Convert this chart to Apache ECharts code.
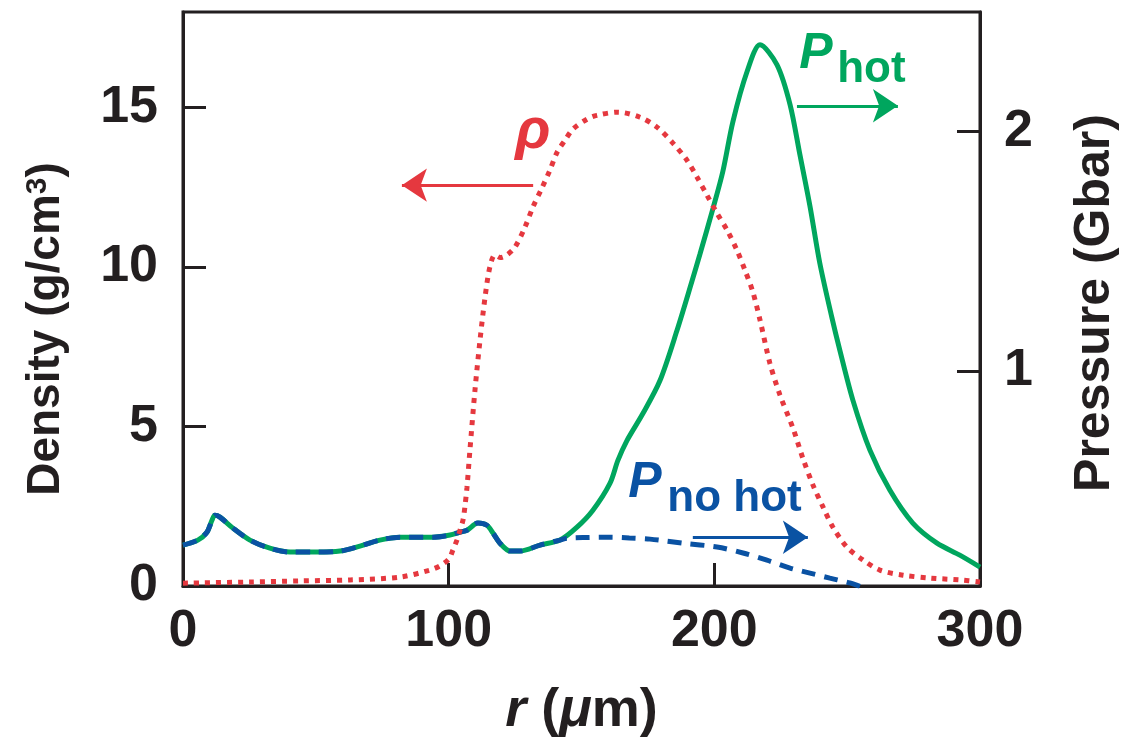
<!DOCTYPE html>
<html>
<head>
    <meta charset="utf-8">
    <title>Density and pressure profiles</title>
    <style type="text/css">
        html, body { margin: 0; padding: 0; background: #fff; }
        #chart { width: 1126px; height: 739px; }
    </style>
</head>
<body>
    <div id="chart"></div>

<script src="https://cdn.jsdelivr.net/npm/echarts@6/dist/echarts.min.js"></script>
<script>

    // r (um) and pressure (Gbar) where both pressure curves coincide
    var sharedR = [0, 5.6, 9, 10.9, 12, 13.9, 18.8, 25.2, 32.7, 40.3, 50, 59.1, 66.6, 74.1, 81.7, 94.1, 100.5, 104.3, 106.9, 111, 114.4, 116.7, 119.3, 123.1, 126.8, 134.4, 141.9];
    var sharedP = [0.271, 0.292, 0.325, 0.375, 0.396, 0.388, 0.342, 0.292, 0.258, 0.242, 0.242, 0.246, 0.267, 0.292, 0.304, 0.304, 0.313, 0.325, 0.333, 0.363, 0.354, 0.321, 0.279, 0.246, 0.246, 0.271, 0.292];

    // P hot, after it leaves the shared part
    var hotR = [148.3, 154.3, 160.7, 163.7, 167.1, 173.1, 179.5, 185.9, 191.6, 194.6, 199.5, 203.2, 207, 212.3, 217.2, 223.6, 228.5, 232.2, 236, 239.7, 244.3, 247.3, 252.2, 258.6, 266.1, 274.7, 283.8, 292.4, 300];
    var hotP = [0.346, 0.417, 0.529, 0.625, 0.708, 0.821, 0.958, 1.167, 1.375, 1.488, 1.679, 1.833, 2.042, 2.25, 2.363, 2.279, 2.113, 1.904, 1.688, 1.45, 1.22, 1.083, 0.875, 0.667, 0.5, 0.363, 0.279, 0.229, 0.179];

    // P no hot, after it leaves the shared part
    var noHotR = [144.5, 152, 160.7, 168, 175.8, 188.2, 201, 210.8, 219.8, 228.5, 236, 243.5, 251, 255.5];
    var noHotP = [0.300, 0.303, 0.304, 0.301, 0.296, 0.279, 0.263, 0.238, 0.208, 0.175, 0.154, 0.133, 0.113, 0.096];

    // density (g/cm3)
    var rhoR = [0, 25.2, 44, 62.9, 81.7, 93, 96.7, 100.1, 101.6, 103.1, 104.3, 105.4, 106.1, 106.9, 108, 109.9, 111.8, 113.7, 115.5, 117.4, 119.5, 121.9, 125, 128.7, 131.7, 135.1, 138.1, 140.8, 143.8, 146.8, 152.1, 155.8, 163.7, 172, 178.4, 184.4, 189.7, 193.5, 197.2, 201, 204.8, 208.5, 211.5, 214.5, 217.2, 220.9, 224.7, 229.6, 233.3, 237.1, 240.9, 244.6, 249.9, 255.9, 262.3, 271, 281.1, 292.4, 300];
    var rhoV = [0.09, 0.125, 0.16, 0.19, 0.28, 0.5, 0.63, 0.85, 1.13, 1.44, 1.76, 2.07, 2.48, 3.1, 4.26, 6.14, 7.71, 9.06, 10.0, 10.38, 10.3, 10.38, 10.63, 11.25, 11.88, 12.48, 13.04, 13.6, 13.98, 14.33, 14.64, 14.76, 14.86, 14.7, 14.39, 13.89, 13.35, 12.82, 12.26, 11.69, 11.16, 10.53, 9.91, 9.22, 8.34, 6.99, 5.99, 4.95, 4.01, 3.17, 2.48, 1.85, 1.22, 0.82, 0.5, 0.34, 0.25, 0.19, 0.125];

    var xTicks = [0, 100, 200, 300];
    var densityTicks = [0, 5, 10, 15];
    var pressureTicks = [1, 2];

    var FONT = '"Liberation Sans", Arial, Helvetica, sans-serif';
    var INK = '#231f20';
    var GREEN = '#00a65e';
    var BLUE = '#0a52a3';
    var RED = '#e5383f';

    function zip(xs, ys) {
        var out = [];
        for (var i = 0; i < xs.length; i++) {
            out.push([xs[i], ys[i]]);
        }
        return out;
    }

    // straight arrow drawn as a mark line, tip at "to"
    function arrow(color, from, to) {
        return {
            silent: true,
            animation: false,
            symbol: ['none', 'arrow'],
            symbolSize: 25,
            label: { show: false },
            emphasis: { disabled: true },
            lineStyle: { color: color, width: 3, type: 'solid' },
            data: [[{ coord: from }, { coord: to }]]
        };
    }

    function tag(color, items) {
        return {
            silent: true,
            animation: false,
            symbol: 'circle',
            symbolSize: 1,
            itemStyle: { color: 'rgba(0,0,0,0)' },
            label: {
                show: true,
                position: 'inside',
                color: color,
                fontFamily: FONT,
                fontWeight: 'bold'
            },
            data: items
        };
    }

    var axisLine = { show: true, lineStyle: { color: INK, width: 3 } };
    var tickStyle = { color: INK, width: 3 };
    var labelStyle = { color: INK, fontFamily: FONT, fontWeight: 'bold', fontSize: 52 };
    var nameStyle = { color: INK, fontFamily: FONT, fontWeight: 'bold', fontSize: 50 };

    var option = {
        animation: false,
        backgroundColor: '#fff',
        grid: {
            left: 183, right: 146, top: 12, bottom: 153,
            show: true, borderColor: INK, borderWidth: 3,
            outerBoundsMode: 'none'
        },
        xAxis: {
            type: 'value',
            min: 0, max: 300,
            axisLine: axisLine,
            axisTick: { inside: true, length: 23, lineStyle: tickStyle, customValues: xTicks },
            axisLabel: Object.assign({ margin: 20, customValues: xTicks }, labelStyle),
            splitLine: { show: false },
            name: '{it|r} ({it|\u03bc}m)',
            nameLocation: 'middle',
            nameGap: 98,
            nameTextStyle: Object.assign({}, nameStyle, {
                fontSize: 54,
                rich: {
                    it: { fontFamily: FONT, fontWeight: 'bold', fontStyle: 'italic', fontSize: 54, color: INK }
                }
            })
        },
        yAxis: [{
            type: 'value',
            position: 'left',
            min: 0, max: 18,
            axisLine: axisLine,
            axisTick: { inside: true, length: 23, lineStyle: tickStyle, customValues: densityTicks },
            axisLabel: Object.assign({ margin: 25, customValues: densityTicks }, labelStyle),
            splitLine: { show: false },
            name: 'Density (g/cm{sup|3})',
            nameLocation: 'middle',
            nameRotate: 90,
            nameGap: 114,
            nameTextStyle: Object.assign({}, nameStyle, {
                fontSize: 46,
                padding: [0, 60, 0, 0],
                rich: {
                    sup: { fontFamily: FONT, fontWeight: 'bold', fontSize: 30, color: INK, verticalAlign: 'top' }
                }
            })
        }, {
            type: 'value',
            position: 'right',
            min: 0.1, max: 2.5,
            axisLine: axisLine,
            axisTick: { inside: true, length: 23, lineStyle: tickStyle, customValues: pressureTicks },
            axisLabel: Object.assign({ margin: 24, customValues: pressureTicks }, labelStyle),
            splitLine: { show: false },
            name: 'Pressure (Gbar)',
            nameLocation: 'middle',
            nameRotate: 90,
            nameGap: 90,
            nameTextStyle: Object.assign({}, nameStyle, { padding: [0, 8, 0, 0] })
        }],
        series: [{
            name: 'P hot',
            type: 'line',
            yAxisIndex: 1,
            data: zip(sharedR, sharedP).concat(zip(hotR, hotP)),
            smooth: 0.3,
            showSymbol: false,
            lineStyle: { color: GREEN, width: 5 },
            z: 2,
            markLine: arrow(GREEN, [231.1, 2.108], [269.1, 2.108]),
            markPoint: tag(GREEN, [
                { coord: [238.2, 2.323], label: { formatter: 'P', fontSize: 50, fontStyle: 'italic' } },
                { coord: [259.1, 2.26], label: { formatter: 'hot', fontSize: 44 } }
            ])
        }, {
            name: 'P no hot',
            type: 'line',
            yAxisIndex: 1,
            data: zip(sharedR, sharedP).concat(zip(noHotR, noHotP)),
            smooth: 0.3,
            showSymbol: false,
            lineStyle: { color: BLUE, width: 5, type: [14, 9] },
            z: 3,
            markLine: arrow(BLUE, [191.9, 0.304], [235.2, 0.304]),
            markPoint: tag(BLUE, [
                { coord: [173.9, 0.531], label: { formatter: 'P', fontSize: 50, fontStyle: 'italic' } },
                { coord: [207.6, 0.4625], label: { formatter: 'no hot', fontSize: 44 } }
            ])
        }, {
            name: 'rho',
            type: 'line',
            yAxisIndex: 0,
            data: zip(rhoR, rhoV),
            smooth: 0.3,
            showSymbol: false,
            lineStyle: { color: RED, width: 5, type: [5, 6], cap: 'butt' },
            z: 4,
            markLine: arrow(RED, [131.8, 12.57], [82.4, 12.57]),
            markPoint: tag(RED, [
                { coord: [131.7, 14.23], label: { formatter: '\u03c1', fontSize: 58, fontStyle: 'italic' } }
            ])
        }]
    };

    var chart = echarts.init(document.getElementById('chart'));
    chart.setOption(option);

</script>
</body>
</html>
